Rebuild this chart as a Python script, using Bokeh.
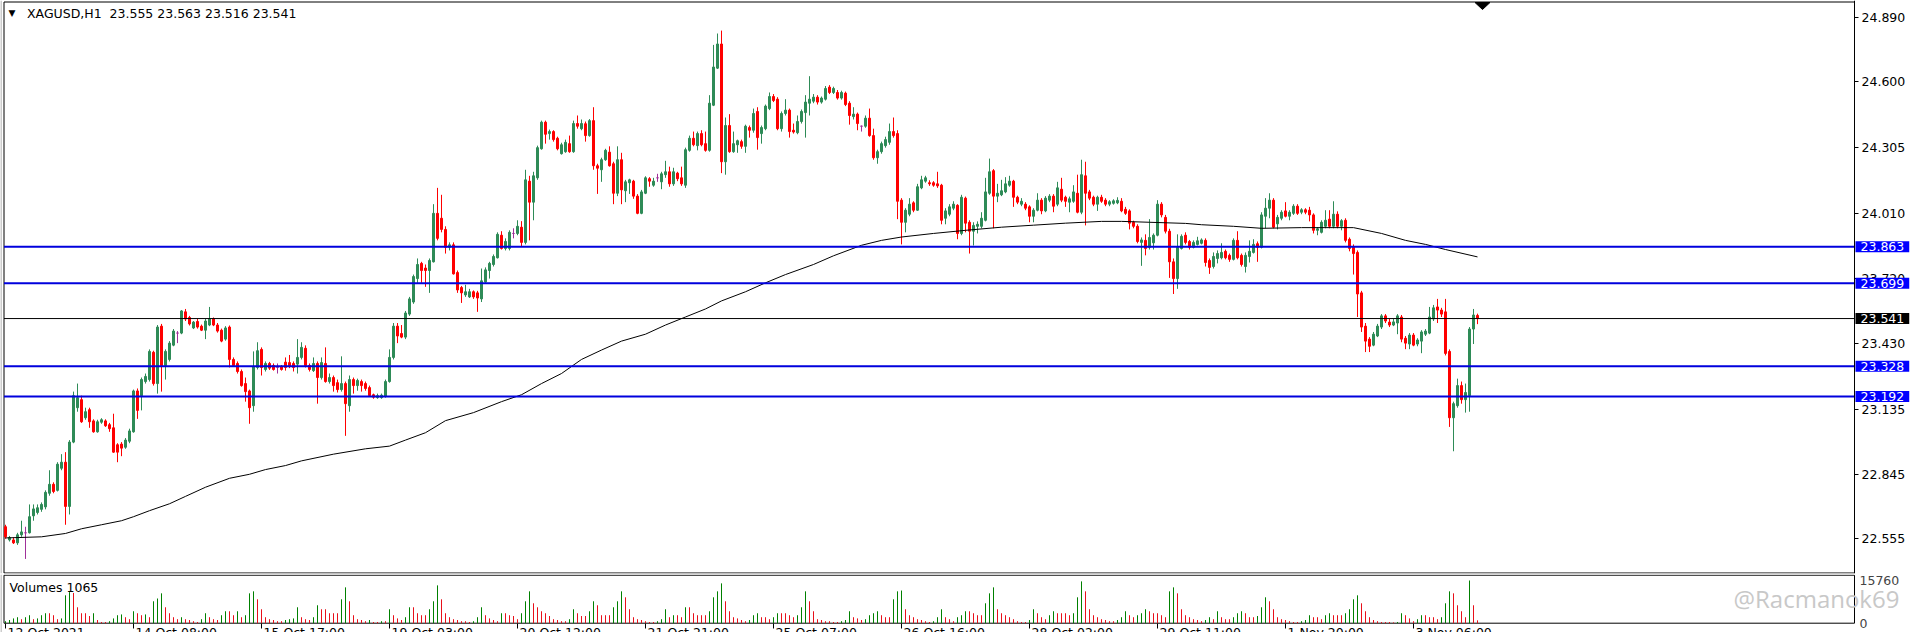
from bokeh.plotting import figure
from bokeh.models import (Range1d, FixedTicker, Label, ColumnDataSource,
                          PrintfTickFormatter)
from bokeh.layouts import column
from bokeh.embed import file_html
from bokeh.resources import INLINE

symbol = "XAGUSD,H1"

open_ = [
    22.609, 22.550, 22.550, 22.537, 22.573, 22.582, 22.582, 22.658, 22.673, 22.687,
    22.698, 22.759, 22.799, 22.772, 22.871, 22.898, 22.700, 22.988, 23.142, 23.178,
    23.097, 23.133, 23.083, 23.034, 23.077, 23.083, 23.066, 23.052, 22.976, 22.979,
    22.965, 22.992, 23.034, 23.217, 23.196, 23.259, 23.268, 23.390, 23.250, 23.507,
    23.331, 23.358, 23.422, 23.476, 23.476, 23.571, 23.546, 23.499, 23.528, 23.507,
    23.489, 23.512, 23.539, 23.512, 23.489, 23.449, 23.503, 23.358, 23.340, 23.304,
    23.250, 23.217, 23.151, 23.322, 23.403, 23.313, 23.340, 23.331, 23.322, 23.326,
    23.346, 23.344, 23.340, 23.337,
    23.367, 23.408, 23.331, 23.308, 23.340, 23.277,
    23.340, 23.259, 23.277, 23.254, 23.223, 23.250, 23.151, 23.268, 23.241, 23.259,
    23.250, 23.232, 23.200, 23.187, 23.187, 23.192, 23.259, 23.367, 23.507, 23.474,
    23.458, 23.561, 23.615, 23.720, 23.788, 23.767, 23.756, 23.795, 24.012, 23.990,
    23.940, 23.860, 23.871, 23.747, 23.680, 23.647, 23.638, 23.661, 23.656, 23.629,
    23.705, 23.756, 23.783, 23.813, 23.914, 23.855, 23.855, 23.922, 23.922, 23.950,
    23.882, 24.156, 24.062, 24.171, 24.301, 24.420, 24.369, 24.378, 24.348, 24.279,
    24.288, 24.324, 24.288, 24.414, 24.391, 24.413, 24.360, 24.427, 24.225,
    24.207,
    24.252, 24.286, 24.234, 24.102, 24.252, 24.113, 24.149, 24.156, 24.089, 24.012,
    24.102, 24.167, 24.138, 24.171, 24.153, 24.185, 24.198, 24.144, 24.192, 24.171,
    24.138, 24.294, 24.348, 24.315, 24.369, 24.324, 24.294, 24.496, 24.662, 24.770,
    24.243, 24.405, 24.288, 24.319, 24.333, 24.312, 24.396, 24.384, 24.468, 24.369,
    24.391, 24.481, 24.535, 24.523, 24.391, 24.459, 24.474, 24.384, 24.373, 24.423,
    24.463, 24.505, 24.514, 24.532, 24.510, 24.523, 24.577, 24.553, 24.553, 24.528,
    24.550, 24.505, 24.445, 24.456, 24.402, 24.402, 24.438, 24.360, 24.261, 24.288,
    24.315, 24.330, 24.378, 24.369,
    24.071, 23.972, 24.008, 24.059, 24.026, 24.126,
    24.156, 24.149, 24.149, 24.144, 24.138, 23.990, 24.008, 24.035, 24.048, 23.922,
    24.080, 23.972, 23.932, 23.954, 23.954, 23.981, 24.102, 24.203, 24.089, 24.095,
    24.108, 24.138, 24.156, 24.084, 24.053, 24.053, 24.041, 23.999, 24.026, 24.071,
    24.023, 24.071, 24.089, 24.053, 24.120, 24.084, 24.062, 24.066, 24.102, 24.017,
    24.180, 24.108, 24.084, 24.053, 24.084, 24.071, 24.053, 24.057, 24.059, 24.066,
    24.030, 24.023, 23.972, 23.954, 23.882, 23.891, 23.860, 23.880, 23.914, 24.053,
    23.994, 23.932, 23.795, 23.720, 23.855, 23.914, 23.886, 23.860, 23.873,
    23.878,
    23.891, 23.801, 23.774, 23.810, 23.813, 23.842, 23.824, 23.806, 23.891, 23.824,
    23.774, 23.819, 23.837, 23.876, 23.860, 23.999, 24.035, 24.071, 23.965, 23.990,
    24.023, 23.999, 24.012, 24.044, 24.017, 24.028, 24.026, 24.005, 23.936, 23.927,
    23.954, 23.986, 23.954, 24.008, 23.954, 23.981, 23.896, 23.860, 23.837, 23.656,
    23.507, 23.449, 23.422, 23.463, 23.503, 23.553, 23.525, 23.512, 23.521, 23.548,
    23.453, 23.427, 23.467, 23.427, 23.440, 23.471, 23.476, 23.539, 23.593, 23.579,
    23.571, 23.394, 23.097, 23.151, 23.241, 23.178, 23.196, 23.494, 23.555,
]

high = [
    22.618, 22.568, 22.561, 22.582, 22.636, 22.609, 22.709, 22.709, 22.709, 22.718,
    22.772, 22.862, 22.808, 22.898, 22.934, 22.943, 22.997, 23.214, 23.250, 23.196,
    23.142, 23.142, 23.090, 23.088, 23.095, 23.090, 23.074, 23.115, 22.983, 22.988,
    23.006, 23.048, 23.223, 23.228, 23.277, 23.295, 23.403, 23.397, 23.512, 23.517,
    23.403, 23.440, 23.494, 23.485, 23.579, 23.584, 23.553, 23.530, 23.539, 23.514,
    23.539, 23.593, 23.546, 23.521, 23.496, 23.507, 23.510, 23.367, 23.349, 23.313,
    23.277, 23.223, 23.394, 23.435, 23.412, 23.349, 23.347, 23.340, 23.340, 23.333,
    23.367, 23.378, 23.349, 23.449,
    23.435, 23.421, 23.340, 23.367, 23.349, 23.367,
    23.412, 23.295, 23.286, 23.268, 23.372, 23.259, 23.286, 23.277, 23.272, 23.268,
    23.259, 23.241, 23.205, 23.205, 23.205, 23.268, 23.403, 23.521, 23.521, 23.512,
    23.575, 23.638, 23.738, 23.810, 23.795, 23.783, 23.810, 24.053, 24.126, 24.095,
    23.954, 23.882, 23.882, 23.756, 23.687, 23.692, 23.674, 23.667, 23.665, 23.765,
    23.770, 23.795, 23.828, 23.927, 23.932, 23.900, 23.936, 23.945, 23.981, 23.977,
    24.207, 24.180, 24.198, 24.315, 24.427, 24.427, 24.387, 24.384, 24.355, 24.328,
    24.342, 24.360, 24.427, 24.450, 24.432, 24.423, 24.434, 24.487, 24.234,
    24.261,
    24.301, 24.312, 24.243, 24.312, 24.283, 24.162, 24.167, 24.162, 24.098, 24.117,
    24.178, 24.174, 24.171, 24.189, 24.198, 24.247, 24.221, 24.216, 24.198, 24.221,
    24.306, 24.360, 24.378, 24.378, 24.384, 24.378, 24.541, 24.766, 24.817, 24.830,
    24.441, 24.456, 24.378, 24.342, 24.342, 24.409, 24.405, 24.481, 24.487, 24.405,
    24.499, 24.553, 24.546, 24.532, 24.468, 24.523, 24.481, 24.414, 24.450, 24.477,
    24.541, 24.626, 24.546, 24.541, 24.535, 24.582, 24.586, 24.579, 24.564, 24.561,
    24.557, 24.514, 24.487, 24.463, 24.405, 24.450, 24.481, 24.391, 24.297, 24.333,
    24.355, 24.414, 24.441, 24.384,
    24.080, 24.035, 24.080, 24.066, 24.144, 24.180,
    24.180, 24.160, 24.156, 24.198, 24.144, 24.035, 24.053, 24.066, 24.053, 24.095,
    24.087, 23.981, 23.972, 23.976, 24.017, 24.171, 24.257, 24.210, 24.144, 24.162,
    24.174, 24.180, 24.162, 24.091, 24.080, 24.062, 24.048, 24.035, 24.102, 24.080,
    24.089, 24.098, 24.098, 24.153, 24.171, 24.091, 24.087, 24.138, 24.185, 24.252,
    24.243, 24.117, 24.091, 24.091, 24.095, 24.080, 24.071, 24.075, 24.084, 24.080,
    24.041, 24.030, 23.979, 23.963, 23.904, 23.918, 23.986, 23.922, 24.071, 24.062,
    24.005, 23.943, 23.810, 23.918, 23.918, 23.927, 23.893, 23.891, 23.907,
    23.900,
    23.900, 23.810, 23.837, 23.846, 23.878, 23.850, 23.832, 23.900, 23.932, 23.832,
    23.837, 23.891, 23.896, 23.886, 24.017, 24.080, 24.102, 24.080, 24.005, 24.026,
    24.062, 24.026, 24.053, 24.053, 24.035, 24.035, 24.041, 24.012, 23.950, 23.981,
    24.026, 24.026, 24.066, 24.021, 23.986, 23.990, 23.904, 23.873, 23.846, 23.665,
    23.521, 23.458, 23.481, 23.517, 23.561, 23.561, 23.539, 23.539, 23.561, 23.557,
    23.463, 23.476, 23.476, 23.453, 23.489, 23.494, 23.593, 23.602, 23.629, 23.589,
    23.629, 23.403, 23.169, 23.272, 23.259, 23.250, 23.503, 23.584, 23.563,
]

low = [
    22.555, 22.543, 22.532, 22.528, 22.564, 22.465, 22.579, 22.636, 22.664, 22.676,
    22.687, 22.748, 22.759, 22.767, 22.862, 22.618, 22.664, 22.983, 23.124, 23.074,
    23.088, 23.052, 23.030, 23.030, 23.070, 23.056, 23.034, 22.940, 22.898, 22.925,
    22.958, 22.983, 23.030, 23.092, 23.130, 23.250, 23.259, 23.241, 23.205, 23.214,
    23.268, 23.349, 23.417, 23.431, 23.471, 23.530, 23.510, 23.494, 23.496, 23.485,
    23.449, 23.507, 23.507, 23.478, 23.435, 23.442, 23.322, 23.326, 23.295, 23.236,
    23.169, 23.070, 23.124, 23.313, 23.286, 23.304, 23.311, 23.308, 23.295, 23.308,
    23.308, 23.319, 23.304, 23.295,
    23.358, 23.322, 23.304, 23.302, 23.160, 23.268,
    23.254, 23.250, 23.214, 23.210, 23.214, 23.016, 23.124, 23.205, 23.218, 23.214,
    23.218, 23.191, 23.182, 23.182, 23.182, 23.187, 23.254, 23.358, 23.431, 23.453,
    23.449, 23.553, 23.607, 23.701, 23.701, 23.683, 23.656, 23.792, 23.891, 23.927,
    23.832, 23.846, 23.738, 23.656, 23.611, 23.638, 23.633, 23.629, 23.571, 23.615,
    23.701, 23.720, 23.774, 23.810, 23.850, 23.846, 23.846, 23.900, 23.914, 23.864,
    23.873, 23.891, 23.981, 24.162, 24.297, 24.324, 24.342, 24.333, 24.294, 24.275,
    24.283, 24.283, 24.283, 24.391, 24.384, 24.333, 24.355, 24.207, 24.099,
    24.153,
    24.247, 24.221, 24.053, 24.089, 24.053, 24.062, 24.099, 24.077, 24.008, 24.008,
    24.098, 24.131, 24.131, 24.153, 24.120, 24.171, 24.131, 24.135, 24.156, 24.135,
    24.126, 24.288, 24.312, 24.294, 24.312, 24.288, 24.288, 24.492, 24.658, 24.192,
    24.185, 24.283, 24.283, 24.283, 24.301, 24.283, 24.351, 24.373, 24.297, 24.324,
    24.384, 24.474, 24.510, 24.384, 24.378, 24.450, 24.351, 24.369, 24.366, 24.414,
    24.351, 24.450, 24.505, 24.499, 24.503, 24.517, 24.546, 24.546, 24.521, 24.521,
    24.492, 24.409, 24.432, 24.384, 24.378, 24.395, 24.355, 24.252, 24.234, 24.279,
    24.306, 24.319, 24.351, 23.986,
    23.873, 23.927, 23.999, 24.017, 24.023, 24.120,
    24.149, 24.135, 24.131, 24.126, 23.963, 23.963, 23.999, 24.026, 23.896, 23.914,
    23.927, 23.832, 23.868, 23.922, 23.945, 23.976, 24.095, 23.945, 24.062, 24.089,
    24.102, 24.131, 24.041, 24.053, 24.044, 24.026, 23.972, 23.972, 24.021, 24.008,
    24.017, 24.062, 24.017, 24.044, 24.062, 24.041, 24.017, 24.059, 24.012, 24.008,
    23.958, 24.071, 24.044, 24.023, 24.059, 24.044, 24.044, 24.051, 24.053, 24.017,
    24.005, 23.940, 23.945, 23.878, 23.777, 23.824, 23.850, 23.850, 23.909, 23.994,
    23.922, 23.723, 23.651, 23.674, 23.850, 23.873, 23.850, 23.855, 23.868,
    23.873,
    23.774, 23.741, 23.765, 23.788, 23.806, 23.806, 23.795, 23.801, 23.806, 23.774,
    23.747, 23.792, 23.832, 23.795, 23.855, 23.945, 23.990, 23.945, 23.940, 23.981,
    23.994, 23.981, 24.005, 24.005, 24.008, 24.008, 23.976, 23.922, 23.914, 23.922,
    23.945, 23.945, 23.945, 23.945, 23.936, 23.882, 23.842, 23.738, 23.548, 23.481,
    23.391, 23.391, 23.417, 23.458, 23.494, 23.521, 23.503, 23.507, 23.471, 23.435,
    23.404, 23.404, 23.417, 23.417, 23.386, 23.463, 23.471, 23.530, 23.521, 23.548,
    23.376, 23.056, 22.947, 23.142, 23.160, 23.120, 23.124, 23.427, 23.516,
]

close = [
    22.564, 22.561, 22.537, 22.573, 22.586, 22.582, 22.654, 22.689, 22.694, 22.709,
    22.763, 22.799, 22.767, 22.889, 22.898, 22.700, 22.988, 23.196, 23.187, 23.079,
    23.124, 23.079, 23.034, 23.079, 23.088, 23.061, 23.048, 22.943, 22.943, 22.961,
    22.997, 23.038, 23.217, 23.130, 23.268, 23.282, 23.394, 23.250, 23.503, 23.331,
    23.394, 23.431, 23.485, 23.476, 23.575, 23.539, 23.517, 23.525, 23.503, 23.489,
    23.530, 23.539, 23.512, 23.485, 23.440, 23.499, 23.358, 23.331, 23.304, 23.241,
    23.214, 23.142, 23.326, 23.397, 23.322, 23.340, 23.319, 23.313, 23.322, 23.313,
    23.322, 23.326, 23.322, 23.367,
    23.412, 23.331, 23.313, 23.340, 23.277, 23.344,
    23.259, 23.277, 23.241, 23.223, 23.250, 23.160, 23.268, 23.241, 23.264, 23.241,
    23.228, 23.196, 23.189, 23.196, 23.198, 23.259, 23.367, 23.507, 23.463, 23.458,
    23.566, 23.629, 23.729, 23.783, 23.756, 23.756, 23.801, 24.012, 23.900, 23.940,
    23.860, 23.871, 23.741, 23.669, 23.656, 23.661, 23.661, 23.638, 23.633, 23.710,
    23.759, 23.788, 23.819, 23.918, 23.855, 23.886, 23.927, 23.922, 23.954, 23.882,
    24.162, 24.062, 24.180, 24.306, 24.420, 24.366, 24.378, 24.342, 24.301, 24.319,
    24.330, 24.288, 24.414, 24.402, 24.414, 24.360, 24.427, 24.225, 24.214,
    24.252,
    24.294, 24.225, 24.102, 24.252, 24.117, 24.153, 24.162, 24.089, 24.012, 24.108,
    24.171, 24.156, 24.156, 24.171, 24.189, 24.198, 24.144, 24.198, 24.167, 24.144,
    24.297, 24.348, 24.319, 24.369, 24.319, 24.294, 24.505, 24.667, 24.770, 24.243,
    24.405, 24.288, 24.324, 24.337, 24.312, 24.402, 24.384, 24.459, 24.351, 24.396,
    24.492, 24.535, 24.517, 24.391, 24.459, 24.474, 24.378, 24.376, 24.423, 24.468,
    24.510, 24.523, 24.532, 24.510, 24.528, 24.571, 24.553, 24.571, 24.528, 24.553,
    24.499, 24.450, 24.456, 24.414, 24.402, 24.438, 24.360, 24.261, 24.288, 24.324,
    24.342, 24.378, 24.360, 24.066,
    23.972, 24.026, 24.053, 24.026, 24.131, 24.162,
    24.171, 24.144, 24.138, 24.135, 23.981, 24.023, 24.041, 24.053, 23.922, 24.084,
    23.968, 23.932, 23.958, 23.963, 23.990, 24.108, 24.198, 24.089, 24.102, 24.113,
    24.144, 24.156, 24.084, 24.062, 24.066, 24.035, 23.999, 24.026, 24.071, 24.023,
    24.080, 24.089, 24.044, 24.126, 24.071, 24.066, 24.077, 24.108, 24.017, 24.185,
    24.102, 24.080, 24.053, 24.084, 24.066, 24.053, 24.064, 24.068, 24.070, 24.023,
    24.012, 23.968, 23.954, 23.886, 23.893, 23.855, 23.904, 23.914, 24.053, 24.005,
    23.932, 23.795, 23.720, 23.860, 23.909, 23.882, 23.860, 23.882, 23.889,
    23.893,
    23.792, 23.770, 23.819, 23.832, 23.837, 23.813, 23.806, 23.891, 23.813, 23.783,
    23.824, 23.842, 23.873, 23.860, 24.005, 24.035, 24.071, 23.950, 23.994, 24.017,
    23.999, 24.017, 24.044, 24.012, 24.028, 24.017, 24.005, 23.936, 23.943, 23.972,
    23.981, 23.954, 24.008, 23.954, 23.979, 23.891, 23.855, 23.832, 23.651, 23.503,
    23.440, 23.417, 23.471, 23.507, 23.553, 23.530, 23.512, 23.526, 23.553, 23.449,
    23.431, 23.467, 23.422, 23.445, 23.481, 23.485, 23.548, 23.589, 23.579, 23.561,
    23.385, 23.097, 23.160, 23.241, 23.178, 23.210, 23.494, 23.557, 23.541,
]

volume = [
    735, 1176, 1764, 2205, 1470, 2205, 2940, 1470, 1764, 2940,
    3675, 3675, 2940, 1470, 1764, 10290, 11466, 11172, 5880, 3675,
    3675, 2646, 3675, 1176, 441, 441, 735, 1764, 2940, 3234,
    2205, 1470, 4410, 3675, 2940, 3234, 2205, 8085, 9114, 11025,
    5880, 3675, 2205, 1470, 2205, 1470, 1176, 735, 441, 1470,
    3675, 2205, 1470, 1176, 2940, 4410, 4410, 2940, 4410, 2205,
    2940, 11025, 11760, 8820, 5145, 2205, 1470, 1176, 735, 735,
    1176, 1470, 1764, 5880,
    2205, 1470, 1176, 2205, 6615, 5145, 5145, 3675, 3675, 3675,
    8820, 13230, 8085, 2940, 1470, 1176, 735, 1176, 441, 441,
    735, 735, 5145, 2940, 1764, 1176, 2205, 5880, 5880, 3675,
    2940, 2940, 5145, 8085, 13965, 8820, 3675, 2205, 1470, 1176,
    735, 735, 441, 735, 2205, 5880, 2940, 1764, 1176, 735,
    3675, 3675, 2940, 2646, 1470, 3675, 8085, 11760, 7350, 5880,
    4410, 3675, 2646, 1470, 1176, 735, 735, 1470, 5145, 3675,
    2646, 2646, 4410, 8085, 6615,
    2940, 2940, 2940, 5880, 8085, 11760, 9555, 5145, 2205, 1470,
    1176, 735, 441, 441, 735, 1470, 5145, 2205, 2940, 2940,
    2205, 5880, 5880, 3675, 2940, 2940, 2940, 4410, 9555, 11760,
    14700, 8085, 4410, 2205, 1764, 1176, 735, 1176, 2940, 3675,
    2205, 2205, 1470, 2205, 3675, 3675, 3675, 2940, 2205, 2940,
    5880, 11760, 8085, 4410, 1470, 1176, 735, 735, 441, 441,
    735, 1176, 4410, 2205, 1764, 1176, 1470, 2940, 3675, 4410,
    2940, 2205, 2205, 8820, 11760,
    12054, 5145, 2940, 2205, 1470, 1176, 735, 441, 735, 2205,
    5145, 2205, 1470, 735, 2205, 2940, 4410, 4410, 3675, 2940,
    2940, 7350, 11025, 13230, 5145, 3675, 2940, 2205, 1470, 735,
    441, 441, 1176, 5145, 3675, 2205, 1470, 2940, 4410, 3675,
    3675, 3675, 2940, 3675, 9555, 15435, 11760, 5145, 2940, 2205,
    1470, 1176, 735, 735, 1176, 2205, 4410, 2940, 2205, 2940,
    3675, 5145, 4410, 3675, 3675, 2940, 2205, 11760, 13230, 11025,
    5145, 2940, 2205, 1470, 1176,
    735, 1176, 2205, 1470, 4410, 2205, 1470, 1470, 2205, 3675,
    4410, 3675, 2205, 2205, 2646, 5880, 9555, 8085, 5145, 2205,
    1470, 1176, 735, 441, 441, 735, 1176, 2940, 2205, 2205,
    1470, 2940, 3675, 2940, 2940, 2940, 3675, 5145, 8820, 10290,
    7350, 4410, 2205, 1176, 735, 441, 441, 441, 294, 441,
    3675, 2940, 1764, 735, 1470, 2940, 2940, 2205, 2205, 1470,
    2205, 7350, 11760, 11025, 6615, 4410, 2205, 15760, 6615, 1065,
]

# moving average (bar index, price)
ma_bar = [0, 9, 15, 19, 24, 29, 32, 36, 41, 45, 50, 56, 61, 65, 70, 74, 82, 90,
          96, 100, 105, 110, 117, 124, 129, 134, 139, 144, 149, 154, 160, 165,
          170, 175, 179, 185, 190, 195, 202, 207, 214, 219, 224, 232, 240, 249,
          257, 265, 274, 279, 286, 295, 299, 307, 314, 324, 337, 344, 350, 355,
          360, 368]
ma_val = [22.559, 22.564, 22.579, 22.600, 22.618, 22.636, 22.654, 22.681, 22.712,
          22.745, 22.786, 22.826, 22.844, 22.865, 22.883, 22.904, 22.934, 22.958,
          22.970, 22.997, 23.030, 23.084, 23.120, 23.169, 23.200, 23.250, 23.295,
          23.358, 23.400, 23.440, 23.471, 23.512, 23.548, 23.584, 23.620, 23.661,
          23.701, 23.738, 23.783, 23.822, 23.869, 23.891, 23.906, 23.922, 23.936,
          23.950, 23.959, 23.968, 23.976, 23.976, 23.972, 23.967, 23.961, 23.954,
          23.945, 23.948, 23.948, 23.922, 23.891, 23.873, 23.850, 23.817]

time_tick_bars = [0, 32, 64, 96, 128, 160, 192, 224, 256, 288, 320, 352]
time_tick_labels = ["12 Oct 2021", "14 Oct 08:00", "15 Oct 17:00", "19 Oct 03:00",
                    "20 Oct 12:00", "21 Oct 21:00", "25 Oct 07:00", "26 Oct 16:00",
                    "28 Oct 02:00", "29 Oct 11:00", "1 Nov 20:00", "3 Nov 06:00"]
price_ticks = [24.890, 24.600, 24.305, 24.010, 23.720, 23.430, 23.135, 22.845, 22.555]
blue_levels = [23.863, 23.699, 23.328, 23.192]
watermark = "@Racmanok69"

# ---------------- styling / layout (page pixels) ----------------
FONT = "DejaVu Sans"
FS = "12.5px"
BULL, BEAR, DOJI = "#2E8B57", "#FF0000", "#A0309A"
VOL_UP, VOL_DN = "#008000", "#E8101A"
LINE_BLUE, BOX_BLUE = "#0000DD", "#0000FF"

W = 1920
P_FRAME_H, P_BOTTOM = 573, 1          # price pane canvas 0..574
V_FRAME_H = 58                        # volume pane canvas 574..632
PX_PER_BAR = 4.0
X0 = -1.25                            # bar coordinate at the left page edge
Y_HI, Y_LO = 24.96475, 22.3998        # price at top / bottom of the price frame
PXP = P_FRAME_H / (Y_HI - Y_LO)
V_HI, V_LO = 17975.0, -3433.0         # volume at top / bottom of the volume frame
VPP = (V_HI - V_LO) / V_FRAME_H
V_TOP_PAGE = P_FRAME_H + P_BOTTOM


def xpx(px):
    return X0 + px / PX_PER_BAR


def ypx(py):
    return Y_HI - py / PXP


def vpx(py):
    return V_HI - (py - V_TOP_PAGE) * VPP


AX = xpx(1854)          # price / volume scale line
LEFT_EDGE = xpx(3.5)

n = len(close)
xs = list(range(n))
colors, btop, bbot, wtop, wbot = [], [], [], [], []
for o, h, l, c in zip(open_, high, low, close):
    colors.append(BULL if c > o else (BEAR if c < o else DOJI))
    btop.append(max(o, c)); bbot.append(min(o, c))
    wtop.append(max(h, o, c)); wbot.append(min(l, o, c))
vcolors = [VOL_UP] + [VOL_UP if volume[i] > volume[i - 1] else VOL_DN for i in range(1, n)]

src = ColumnDataSource(dict(x=xs, btop=btop, bbot=bbot, wtop=wtop, wbot=wbot,
                            color=colors, vol=volume, vcolor=vcolors, zero=[0] * n))

# ---------------- price pane ----------------
p = figure(frame_width=W, frame_height=P_FRAME_H,
           min_border_left=0, min_border_right=0, min_border_top=0, min_border_bottom=P_BOTTOM,
           x_range=Range1d(X0, X0 + W / PX_PER_BAR), y_range=Range1d(Y_LO, Y_HI),
           x_axis_location=None, y_axis_location="right",
           toolbar_location=None, output_backend="svg")
p.outline_line_color = None
p.grid.visible = False
p.background_fill_color = "white"
p.border_fill_color = "white"
ya = p.yaxis[0]
ya.fixed_location = AX
ya.ticker = FixedTicker(ticks=price_ticks)
ya.formatter = PrintfTickFormatter(format="%.3f")
ya.major_tick_out = 4
ya.major_tick_in = 0
ya.minor_tick_out = 0
ya.minor_tick_in = 0
ya.axis_line_color = "black"
ya.major_label_text_font = FONT
ya.major_label_text_font_size = FS
ya.major_label_text_color = "black"
ya.major_label_standoff = 3

# pane border and window edge
p.quad(left=[LEFT_EDGE], right=[AX], top=[ypx(1.5)], bottom=[ypx(572.5)],
       fill_color=None, line_color="black", line_width=1)
p.segment(x0=[xpx(0.5)], y0=[Y_LO], x1=[xpx(0.5)], y1=[Y_HI], line_color="#9a9a9a", line_width=1)

# candles
p.segment(x0="x", y0="wbot", x1="x", y1="wtop", line_color="color", line_width=1, source=src)
p.vbar(x="x", width=0.5, top="btop", bottom="bbot", fill_color="color",
       line_color="color", line_width=1, source=src)
p.line(ma_bar, ma_val, line_color="black", line_width=1)

# horizontal levels and current price
for lv in blue_levels:
    p.segment(x0=[LEFT_EDGE], y0=[lv], x1=[AX], y1=[lv], line_color=LINE_BLUE, line_width=2)
p.segment(x0=[LEFT_EDGE], y0=[close[-1]], x1=[AX], y1=[close[-1]], line_color="black", line_width=1)

box_x = xpx(1855)
for lv, bg in [(lv, BOX_BLUE) for lv in blue_levels] + [(close[-1], "black")]:
    p.add_layout(Label(x=box_x, y=lv, text=f"{lv:.3f}", text_font=FONT, text_font_size=FS,
                       text_color="white", text_align="left", text_baseline="middle",
                       background_fill_color=bg, padding=(5, 1)))

# title
p.add_layout(Label(x=xpx(8), y=ypx(12), text="▼", text_font=FONT,
                   text_font_size="9px", text_color="black", text_align="left",
                   text_baseline="middle"))
p.add_layout(Label(x=xpx(26.5), y=ypx(12.5),
                   text=f"{symbol} \u00a0{open_[-1]:.3f} {high[-1]:.3f} {low[-1]:.3f} {close[-1]:.3f}",
                   text_font=FONT, text_font_size=FS, text_color="black",
                   text_align="left", text_baseline="middle"))
# chart-shift marker just right of the last bar
cx = n + 0.25
p.patch(x=[cx - 1.875, cx + 1.875, cx], y=[ypx(2), ypx(2), ypx(9)], color="black")

# ---------------- volume pane ----------------
pv = figure(frame_width=W, frame_height=V_FRAME_H,
            min_border_left=0, min_border_right=0, min_border_top=0, min_border_bottom=0,
            x_range=p.x_range, y_range=Range1d(V_LO, V_HI),
            x_axis_location="below", y_axis_location="right",
            toolbar_location=None, output_backend="svg")
pv.outline_line_color = None
pv.grid.visible = False
pv.background_fill_color = "white"
pv.border_fill_color = "white"

# time scale: tick marks at the label bars
xa = pv.xaxis[0]
xa.fixed_location = 0
xa.ticker = FixedTicker(ticks=[], minor_ticks=time_tick_bars)
xa.major_tick_out = 0
xa.major_tick_in = 0
xa.minor_tick_out = 5
xa.minor_tick_in = 0
xa.minor_tick_line_color = "black"
xa.axis_line_color = None

vy = pv.yaxis[0]
vy.fixed_location = AX
vy.ticker = FixedTicker(ticks=[0, max(volume)])
vy.formatter = PrintfTickFormatter(format="%d")
vy.major_tick_out = 0
vy.major_tick_in = 0
vy.minor_tick_out = 0
vy.minor_tick_in = 0
vy.axis_line_color = None
vy.major_label_text_font = FONT
vy.major_label_text_font_size = FS
vy.major_label_standoff = 5

pv.quad(left=[LEFT_EDGE], right=[AX], top=[vpx(574.7)], bottom=[0],
        fill_color=None, line_color="black", line_width=1)
pv.segment(x0=[xpx(0.5)], y0=[V_LO], x1=[xpx(0.5)], y1=[V_HI], line_color="#9a9a9a", line_width=1)
pv.segment(x0="x", y0="zero", x1="x", y1="vol", line_color="vcolor", line_width=1, source=src)

pv.add_layout(Label(x=xpx(9), y=vpx(587), text=f"Volumes {volume[-1]}", text_font=FONT,
                    text_font_size=FS, text_color="black", text_align="left",
                    text_baseline="middle"))
pv.add_layout(Label(x=xpx(1733), y=vpx(598), text=watermark, text_font="Open Sans",
                    text_font_size="24px", text_color="#c8c8c8", text_align="left",
                    text_baseline="middle"))
# time labels start just right of their tick; the window cuts them at the bottom
for b, t in zip(time_tick_bars, time_tick_labels):
    pv.add_layout(Label(x=b + 2.0 / PX_PER_BAR, y=vpx(624.5), text=t, text_font=FONT,
                        text_font_size=FS, text_color="black", text_align="left",
                        text_baseline="top"))

layout = column(p, pv)
open("out.html", "w").write(file_html(layout, INLINE))
